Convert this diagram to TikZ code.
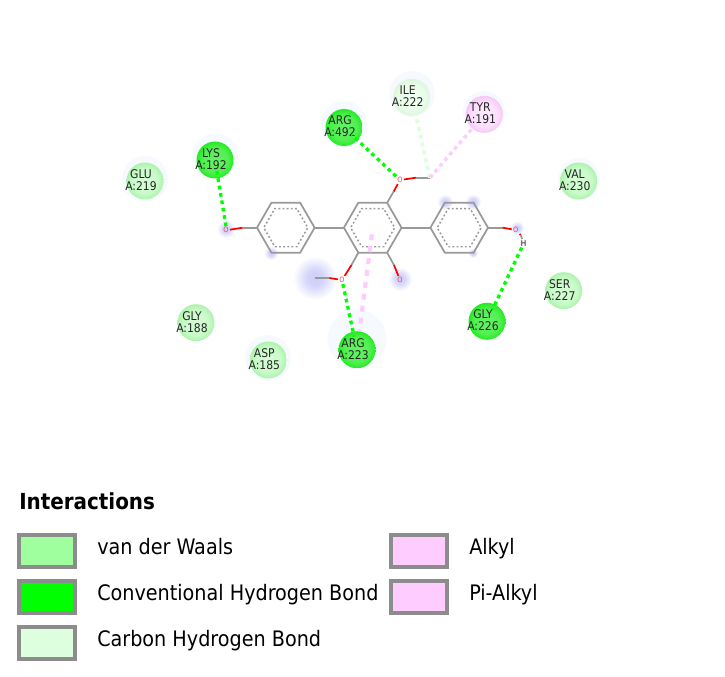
\documentclass[tikz,border=0pt]{standalone}
\usepackage{fontspec}
\setmainfont{DejaVu Sans Condensed}
\usetikzlibrary{shapes.geometric}
\definecolor{vdwgreen}{HTML}{9FFF9F}
\definecolor{hbgreen}{HTML}{00FF00}
\definecolor{chgreen}{HTML}{DDFFDD}
\definecolor{alkylpink}{HTML}{FFCCFF}
\definecolor{boxgrey}{HTML}{8C8C8C}
\definecolor{bondgrey}{HTML}{999999}
\definecolor{halocol}{HTML}{F6F9FE}
\pgfdeclareradialshading{vdwball}{\pgfpointorigin}{rgb(0bp)=(.84,1,.84); rgb(17bp)=(.79,.98,.79); rgb(25bp)=(.68,.95,.68); rgb(50bp)=(.68,.95,.68)}
\pgfdeclareradialshading{hbball}{\pgfpointorigin}{rgb(0bp)=(.40,.95,.40); rgb(17bp)=(.32,.94,.32); rgb(25bp)=(.14,.92,.14); rgb(50bp)=(.14,.92,.14)}
\pgfdeclareradialshading{chball}{\pgfpointorigin}{rgb(0bp)=(.94,1,.94); rgb(17bp)=(.92,.99,.92); rgb(25bp)=(.86,.97,.86); rgb(50bp)=(.86,.97,.86)}
\pgfdeclareradialshading{alkylball}{\pgfpointorigin}{rgb(0bp)=(1,.92,1); rgb(17bp)=(.99,.88,.99); rgb(25bp)=(.97,.78,.97); rgb(50bp)=(.97,.78,.97)}
\pgfdeclareradialshading{blob}{\pgfpointorigin}{rgb(0bp)=(.80,.80,.97); rgb(10bp)=(.84,.84,.98); rgb(25bp)=(1,1,1); rgb(50bp)=(1,1,1)}
\tikzset{
  residue/.style={circle, inner sep=0pt, outer sep=0pt, minimum size=27.75pt,
    label={[reslabel]center:{#1}}},
  reslabel/.style={font=\fontsize{9}{9}\selectfont, align=center, text=black!85, inner sep=0pt, xshift=-3pt, yshift=0.8pt},
  vdw/.style={residue=#1, shading=vdwball},
  hbond/.style={residue=#1, shading=hbball},
  chbond/.style={residue=#1, shading=chball},
  alkyl/.style={residue=#1, shading=alkylball},
  ring/.style={regular polygon, regular polygon sides=6, inner sep=0pt, outer sep=0pt,
    draw=bondgrey, line width=1.3pt, minimum size=43.2pt},
  inring/.style={regular polygon, regular polygon sides=6, inner sep=0pt, outer sep=0pt,
    draw=bondgrey, line width=1.1pt, dash pattern=on 1.4pt off 1.7pt, minimum size=33pt},
  bond/.style={draw=bondgrey, line width=1.3pt},
  obond/.style={draw=red, line width=1.3pt},
  atomO/.style={font=\fontsize{5.5}{5.5}\selectfont, text=red!75, inner sep=0.4pt, outer sep=0.6pt},
  atomH/.style={font=\fontsize{6}{6}\selectfont, text=black, inner sep=0.4pt, outer sep=0.6pt},
  hblink/.style={draw=hbgreen, line width=2.5pt, dash pattern=on 2.8pt off 2.8pt},
  chlink/.style={draw=chgreen, line width=3pt, dash pattern=on 3pt off 3pt},
  allink/.style={draw=alkylpink, line width=2.6pt, dash pattern=on 2.8pt off 2.8pt},
  pilink/.style={draw=alkylpink, line width=3.2pt, dash pattern=on 4.5pt off 4.5pt},
  keybox/.style={draw=boxgrey, line width=3pt, minimum width=42pt, minimum height=24pt, inner sep=0pt},
  keytext/.style={font=\fontsize{16}{19}\selectfont, anchor=base west, inner sep=0pt},
}
\begin{document}
\begin{tikzpicture}[x=0.75pt, y=-0.75pt]
\useasboundingbox (0,0) rectangle (725,677);
% halos and blue patches
\fill[halocol] (145,179) circle (23);
\fill[halocol] (215,156) circle (22.5);
\fill[halocol] (344,124) circle (23);
\fill[halocol] (412,94) circle (23);
\fill[halocol] (484,112) circle (21);
\fill[halocol] (579,179) circle (21);
\fill[halocol] (268,358) circle (23);
\fill[halocol] (357,339) circle (29.5);
\shade[shading=blob] (315,278) circle (22);
\shade[shading=blob] (400,279) circle (12);
\shade[shading=blob] (226,229) circle (9);
\shade[shading=blob] (271,253) circle (7);
\shade[shading=blob] (445,202) circle (8);
\shade[shading=blob] (473,202) circle (8);
\shade[shading=blob] (473,253) circle (5);
\shade[shading=blob] (517,228) circle (7);
% residues
\node[vdw={GLU\\A:219}] (glu219) at (145,181) {};
\node[hbond={LYS\\A:192}] (lys192) at (215,160) {};
\node[hbond={ARG\\A:492}] (arg492) at (344,127.5) {};
\node[chbond={ILE\\A:222}] (ile222) at (411.7,97.3) {};
\node[alkyl={TYR\\A:191}] (tyr191) at (484.3,114.3) {};
\node[vdw={VAL\\A:230}] (val230) at (578.7,181) {};
\node[vdw={SER\\A:227}] (ser227) at (563.7,290.7) {};
\node[hbond={GLY\\A:226}] (gly226) at (487,321.3) {};
\node[hbond={ARG\\A:223}] (arg223) at (357,349.7) {};
\node[vdw={ASP\\A:185}] (asp185) at (268.3,360) {};
\node[vdw={GLY\\A:188}] (gly188) at (196,322.7) {};
% rings
\node[ring] (ringa) at (285.8,227.7) {};
\node[ring] (ringb) at (372.7,227.7) {};
\node[ring] (ringc) at (459.2,227.7) {};
\node[inring] (inringa) at (285.8,227.7) {};
\node[inring] (inringb) at (372.7,227.7) {};
\node[inring] (inringc) at (459.2,227.7) {};
% atoms
\node[atomO] (oa) at (226,230.3) {O};
\node[atomO] (ob) at (400,180) {O};
\node[atomO] (oc) at (342,280) {O};
\node[atomO] (od) at (400,280) {O};
\node[atomO] (oe) at (515.7,230) {O};
\node[atomH] (he) at (523.7,243.3) {H};
\coordinate (mea) at (430,177.7);
\coordinate (meb) at (315,278);
\coordinate (spa) at (242.7,227.7);
\coordinate (spb) at (393.7,191.5);
\coordinate (spc) at (416,177.7);
\coordinate (spd) at (351.5,265);
\coordinate (spe) at (329.3,278);
\coordinate (spf) at (394,265);
\coordinate (spg) at (502.7,227.7);
\coordinate (sph) at (520.7,235);
% bonds
\draw[bond] (ringa.corner 6) -- (ringb.corner 3);
\draw[bond] (ringb.corner 6) -- (ringc.corner 3);
\draw[bond] (ringa.corner 3) -- (spa);
\draw[obond] (spa) -- (oa);
\draw[bond] (ringb.corner 1) -- (spb);
\draw[obond] (spb) -- (ob);
\draw[obond] (ob) -- (spc);
\draw[bond] (spc) -- (mea);
\draw[bond] (ringb.corner 4) -- (spd);
\draw[obond] (spd) -- (oc);
\draw[obond] (oc) -- (spe);
\draw[bond] (spe) -- (meb);
\draw[bond] (ringb.corner 5) -- (spf);
\draw[obond] (spf) -- (od);
\draw[bond] (ringc.corner 6) -- (spg);
\draw[obond] (spg) -- (oe);
\draw[obond] (oe) -- (sph);
\draw[bond] (sph) -- (he);
% interactions
\draw[hblink, shorten >=8.5pt] (oa.north) -- (lys192.center);
\draw[hblink, shorten >=8pt] (ob) -- (arg492.center);
\draw[hblink, shorten >=10pt] (oc) -- (arg223.center);
\draw[hblink, shorten >=10pt] (he) -- (gly226.center);
\draw[chlink] (mea) -- (ile222);
\draw[allink] (mea) -- (tyr191);
\draw[pilink, shorten <=5pt] (ringb.center) -- (arg223);
% key
\node[font=\fontsize{16.6}{19}\selectfont\bfseries, anchor=base west, inner sep=0pt] (keyhead) at (19,509.7) {Interactions};
\node[keybox, fill=vdwgreen] (keya) at (47,551) {};
\node[keybox, fill=hbgreen] (keyb) at (47,597) {};
\node[keybox, fill=chgreen] (keyc) at (47,643) {};
\node[keybox, fill=alkylpink] (keyd) at (419,551) {};
\node[keybox, fill=alkylpink] (keye) at (419,597) {};
\node[keytext] (texta) at (97,554) {van der Waals};
\node[keytext] (textb) at (97,600) {Conventional Hydrogen Bond};
\node[keytext] (textc) at (97,646) {Carbon Hydrogen Bond};
\node[keytext] (textd) at (469,554) {Alkyl};
\node[keytext] (texte) at (469,600) {Pi-Alkyl};
\end{tikzpicture}
\end{document}
